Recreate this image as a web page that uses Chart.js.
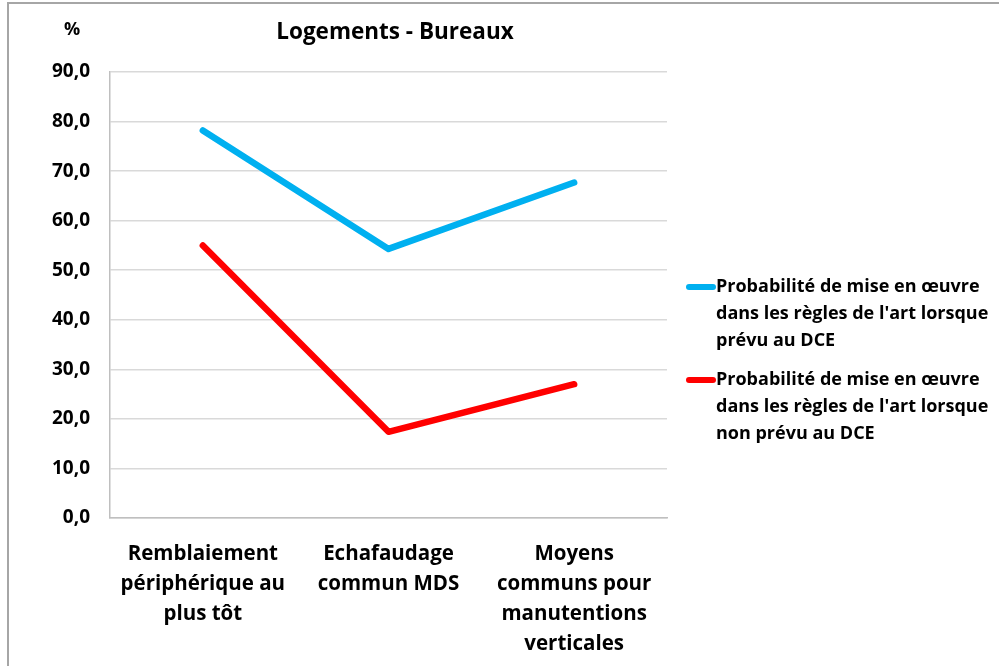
<!DOCTYPE html>
<html>
<head>
<meta charset="utf-8">
<script src="https://cdn.jsdelivr.net/npm/chart.js@4"></script>
<style>
    html, body { margin: 0; padding: 0; background: #fff; }
    #wrap { position: relative; width: 999px; height: 666px; overflow: hidden; }
    #frame { position: absolute; left: 7px; top: 2px; width: 1100px; height: 800px; border: 2px solid #a6a6a6; }
    #chart { position: absolute; left: 0; top: 0; }
</style>
</head>
<body>
<div id="wrap">
    <div id="frame"></div>
    <canvas id="chart" width="999" height="666"></canvas>
</div>
<script>
var categories = [
    ["Remblaiement", "périphérique au", "plus tôt"],
    ["Echafaudage", "commun MDS"],
    ["Moyens", "communs pour", "manutentions", "verticales"]
];
var prevuValues = [78.2, 54.3, 67.7];
var nonPrevuValues = [55.0, 17.4, 27.0];
var prevuLabel = ["Probabilité de mise en œuvre", "dans les règles de l'art lorsque", "prévu au DCE"];
var nonPrevuLabel = ["Probabilité de mise en œuvre", "dans les règles de l'art lorsque", "non prévu au DCE"];
var chartTitle = "Logements - Bureaux";
var yUnit = "%";

var fontFamily = "'Open Sans', 'Noto Sans', sans-serif";

// title, unit and wrapped legend drawn by hand
var extras = {
    id: 'extras',
    afterDraw: function (chart) {
        var ctx = chart.ctx;
        ctx.save();
        ctx.fillStyle = '#000';
        ctx.textBaseline = 'middle';
        ctx.textAlign = 'center';
        ctx.font = "bold 22.5px " + fontFamily;
        ctx.fillText(chartTitle, 395, 33);
        ctx.font = "bold 18px " + fontFamily;
        ctx.fillText(yUnit, 72, 30);

        var entries = [
            { lines: prevuLabel, color: chart.data.datasets[0].borderColor, y: 287 },
            { lines: nonPrevuLabel, color: chart.data.datasets[1].borderColor, y: 380 }
        ];
        ctx.textAlign = 'left';
        ctx.font = "bold 18px " + fontFamily;
        entries.forEach(function (e) {
            ctx.strokeStyle = e.color;
            ctx.lineWidth = 6;
            ctx.lineCap = 'round';
            ctx.beginPath();
            ctx.moveTo(689, e.y);
            ctx.lineTo(713, e.y);
            ctx.stroke();
            for (var i = 0; i < e.lines.length; i++)
                ctx.fillText(e.lines[i], 716, e.y + i * 27);
        });
        ctx.restore();
    }
};

var chart = new Chart(document.getElementById('chart'), {
    type: 'line',
    data: {
        labels: categories,
        datasets: [
            { label: prevuLabel.join(' '), data: prevuValues, borderColor: '#00b0f0', borderWidth: 6.5, borderCapStyle: 'round', borderJoinStyle: 'round', pointRadius: 0, tension: 0 },
            { label: nonPrevuLabel.join(' '), data: nonPrevuValues, borderColor: '#ff0000', borderWidth: 6.5, borderCapStyle: 'round', borderJoinStyle: 'round', pointRadius: 0, tension: 0 }
        ]
    },
    options: {
        responsive: false,
        animation: false,
        layout: { padding: { left: 0, right: 332, top: 72, bottom: 0 } },
        plugins: {
            legend: { display: false },
            title: { display: false },
            tooltip: { enabled: false }
        },
        scales: {
            x: {
                offset: true,
                afterFit: function (scale) { scale.height = 148; },
                grid: { display: false, drawTicks: false },
                border: { display: true, color: '#bfbfbf', width: 1.5 },
                ticks: {
                    color: '#000',
                    padding: 21,
                    maxRotation: 0,
                    autoSkip: false,
                    font: { family: fontFamily, size: 20.5, weight: 'bold', lineHeight: 1.46 }
                }
            },
            y: {
                min: 0,
                max: 90,
                afterFit: function (scale) { scale.width = 110; },
                grid: { color: '#d9d9d9', lineWidth: 1.5, drawTicks: false },
                border: { display: true, color: '#bfbfbf', width: 1.5 },
                ticks: {
                    stepSize: 10,
                    color: '#000',
                    padding: 20,
                    font: { family: fontFamily, size: 19, weight: 'bold' },
                    callback: function (v) { return v.toFixed(1).replace('.', ','); }
                }
            }
        }
    },
    plugins: [extras]
});
</script>
</body>
</html>
